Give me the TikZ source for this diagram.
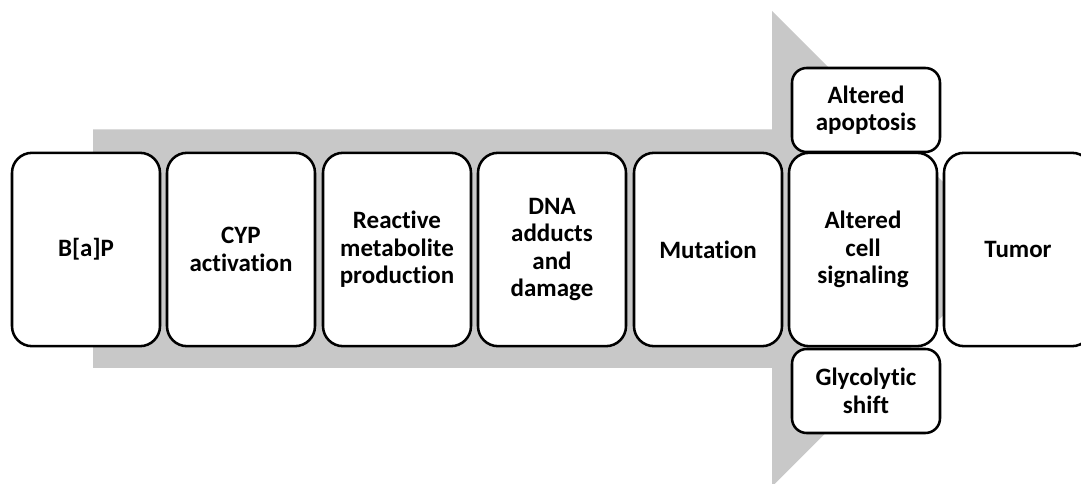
\documentclass[tikz,border=0pt]{standalone}
\usepackage{fontspec}
\setmainfont[Ligatures=NoCommon]{Carlito}
\begin{document}
\begin{tikzpicture}[x=0.75pt,y=-0.75pt,
  stepbox/.style={draw=black, line width=1.9pt, fill=white, rounded corners=15pt,
    minimum width=111pt, minimum height=145pt, align=center, inner sep=0pt,
    font=\fontsize{18.75pt}{20.6pt}\selectfont\bfseries},
  sidebox/.style={stepbox, minimum height=63pt, rounded corners=11pt}]
\definecolor{arrowgray}{RGB}{200,200,200}
\useasboundingbox (0,0) rectangle (1081,484);
\fill[arrowgray] (93,129.5) -- (772,129.5) -- (772,11) -- (1009.75,248.75)
  -- (772,486.5) -- (772,368) -- (93,368) -- cycle;
\node[stepbox] (bap) at (86,249.5) {B[a]P};
\node[stepbox] (cyp) at (241,249.5) {CYP\\activation};
\node[stepbox] (rmp) at (397,249.5) {Reactive\\metabolite\\production};
\node[stepbox] (dna) at (552,249.5) {DNA\\adducts\\and\\damage};
\node[stepbox] (mut) at (708,249.5) {Mutation};
\node[stepbox] (sig) at (863,249.5) {Altered\\cell\\signaling};
\node[stepbox] (tum) at (1018,249.5) {Tumor};
\node[sidebox] (apo) at (866,110) {Altered\\apoptosis};
\node[sidebox] (gly) at (866,391) {Glycolytic\\shift};
\end{tikzpicture}
\end{document}
